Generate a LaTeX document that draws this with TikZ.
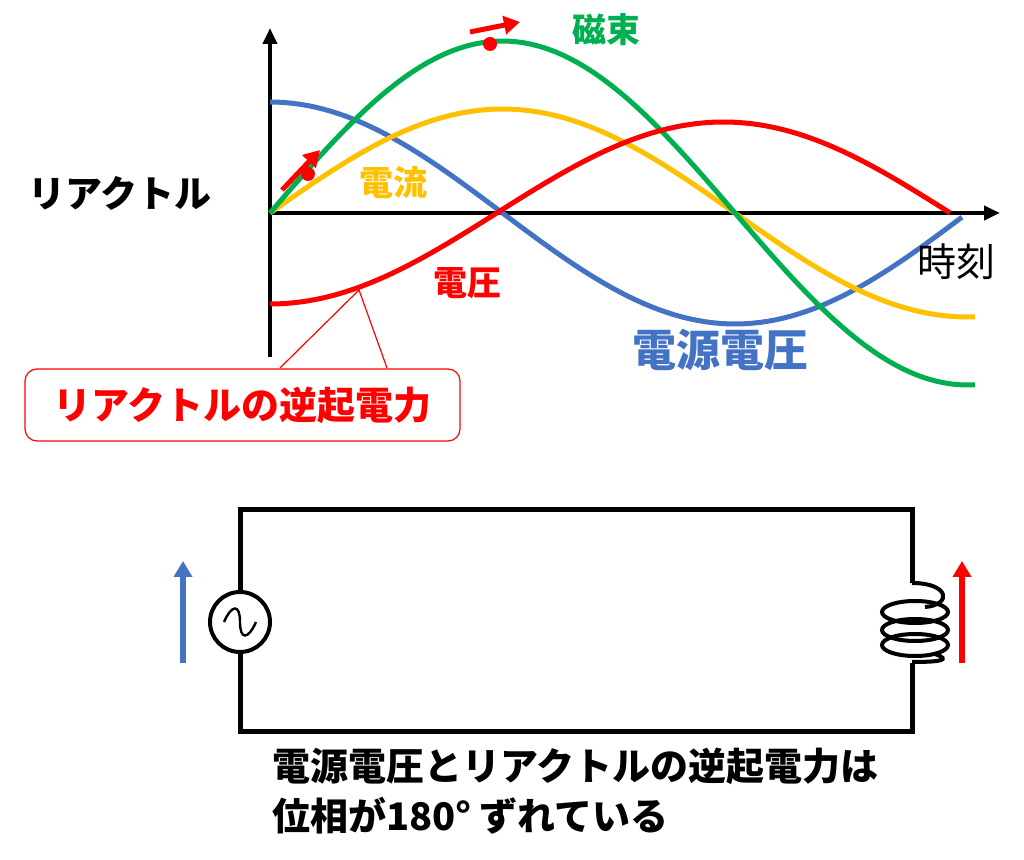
\documentclass[tikz,border=0pt]{standalone}
\usepackage{fontspec}
\setmainfont{Noto Sans CJK JP}
\usetikzlibrary{positioning,arrows.meta}
\definecolor{cblue}{RGB}{68,114,196}
\definecolor{cgreen}{RGB}{0,176,80}
\definecolor{cyellow}{RGB}{255,192,0}
\definecolor{cred}{RGB}{255,0,0}
\tikzset{
  wave/.style={line width=2.5pt},
  axis/.style={line width=2pt,-{Triangle[length=8pt,width=7pt]}},
  lbl/.style={font=\fontsize{17}{19}\selectfont\bfseries},
  pfeil/.style={line width=2.5pt,-{Triangle[length=8pt,width=9pt]}},
}
\begin{document}
\begin{tikzpicture}[x=0.5pt,y=-0.5pt]
  \useasboundingbox (0,0) rectangle (1024,860);
  % axes
  \coordinate (o) at (270,213);
  \coordinate (ytop) at (270,28);
  \coordinate (ybot) at (270,357);
  \coordinate (xend) at (1000,213);
  \draw[line width=2pt] (ybot) -- (o);
  \draw[axis] (o) -- (ytop);
  \draw[axis] (o) -- (xend);
  % waves
  \draw[wave,cblue] plot[domain=270:962,samples=90] (\x,{213-111*cos((\x-270)/930*360)});
  \draw[wave,cyellow] plot[domain=270:975,samples=90] (\x,{213-104*sin((\x-270)/930*360)});
  \draw[wave,cgreen] plot[domain=270:975,samples=90] (\x,{213-172*sin((\x-270)/930*360)});
  \draw[wave,cred] plot[domain=270:950,samples=90] (\x,{213+91*cos((\x-270)/907*360)});
  % dots and arrows
  \draw[pfeil,cred] (282,190) -- (320,150);
  \draw[pfeil,cred] (470,32) -- (520,22);
  \fill[cred] (308,174) circle (7);
  \fill[cred] (490,44) circle (7);
  % labels
  \node[font=\fontsize{18.5}{20}\selectfont\bfseries] (lreak) at (120,193) {リアクトル};
  \node[lbl,cgreen] (lflux) at (606,30) {磁束};
  \node[lbl,cyellow] (lcur) at (393,183) {電流};
  \node[lbl,cred] (lvolt) at (467,283) {電圧};
  \node[font=\fontsize{22}{24}\selectfont\bfseries,cblue] (lsrc) at (720,350) {電源電圧};
  \node[font=\fontsize{19.5}{21}\selectfont] (ltime) at (956,262) {時刻};
  % callout
  \coordinate (tip) at (359,290);
  \draw[cred,line width=0.6pt] (280,368) -- (tip) -- (387,368);
  \node[draw=cred,line width=0.6pt,fill=white,rounded corners=6pt,minimum width=217.5pt,minimum height=36pt,
        font=\fontsize{19}{21}\selectfont\bfseries,text=cred] (callout) at (242.5,405) {リアクトルの逆起電力};
  % circuit
  \coordinate (tl) at (240,510);
  \coordinate (tr) at (912,510);
  \coordinate (bl) at (240,732);
  \coordinate (br) at (912,732);
  \node[draw,circle,line width=2pt,minimum size=30pt,fill=white] (src) at (240,622) {};
  \draw[line width=2.5pt] (src.north) -- (tl) -- (tr) -- (912,583);
  \draw[line width=2.5pt] (912,663) -- (br) -- (bl) -- (src.south);
  \draw[line width=1.2pt] (224,622) .. controls (232,604) and (240,604) .. (240,622)
        .. controls (240,640) and (248,640) .. (256,622);
  \draw[line width=2pt] (912,583) .. controls (950,583) and (952,605) .. (925,607);
  \draw[line width=2pt] (915,612) ellipse (33 and 11);
  \draw[line width=2pt] (915,630) ellipse (33 and 11);
  \draw[line width=2pt] (915,645) ellipse (33 and 11);
  \draw[line width=2pt] (935,654) .. controls (952,660) and (940,662) .. (912,662);
  \draw[pfeil,cblue,line width=3pt] (183,663) -- (183,561);
  \draw[pfeil,cred,line width=3pt] (962,663) -- (962,561);
  % conclusion
  \node[anchor=north west,align=left,font=\fontsize{19}{25}\selectfont\bfseries,inner sep=0pt] (concl) at (272,748)
    {電源電圧とリアクトルの逆起電力は\\位相が180°\hspace{4pt}ずれている};
\end{tikzpicture}
\end{document}
